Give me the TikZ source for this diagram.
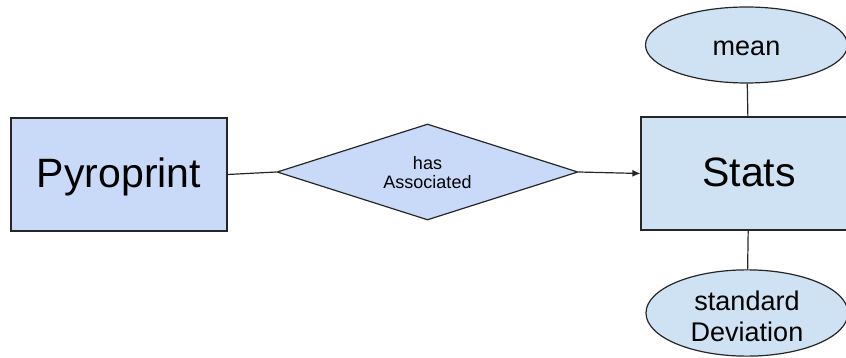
\documentclass[tikz,border=0pt]{standalone}
\usepackage{fontspec}
\setmainfont{Liberation Sans}
\usetikzlibrary{shapes.geometric,arrows.meta}
\definecolor{entfill}{HTML}{C9DAF8}
\definecolor{statfill}{HTML}{CFE2F3}
\definecolor{edge}{HTML}{262626}
% shift text down by #1 keeping the box extent
\newcommand{\lowone}[2]{\raisebox{-#1}[\height][\depth]{#2}}
\newcommand{\lowtwo}[2]{\raisebox{-#1}[\height][\depth]{\begin{tabular}{@{}c@{}}#2\end{tabular}}}
\tikzset{
  entity/.style={draw=edge, line width=1.2pt, rectangle, inner sep=0pt,
    minimum width=216pt, minimum height=113pt, font=\fontsize{41}{46}\selectfont},
  relation/.style={draw=edge, line width=1.2pt, diamond, shape aspect=3, inner sep=0pt,
    fill=entfill, minimum width=301pt, minimum height=96pt,
    font=\fontsize{18}{19}\selectfont},
  attr/.style={draw=edge, line width=1.2pt, ellipse, inner sep=0pt, fill=statfill,
    minimum width=202pt, font=\fontsize{27}{30.5}\selectfont},
  link/.style={draw=edge, line width=1.2pt},
  arrowlink/.style={link, -{Latex[length=8pt,width=7pt]}}
}
\begin{document}
\begin{tikzpicture}[x=1pt,y=-1pt]
\useasboundingbox (0,0) rectangle (846,358);
\clip (0,0) rectangle (846,358);
\node[entity, fill=entfill] (pyro) at (119,174.5) {\lowone{2pt}{Pyroprint}};
\node[relation] (has) at (427.5,172) {\lowtwo{3pt}{has\\Associated}};
\node[entity, fill=statfill] (stats) at (749,173.5) {\lowone{-1pt}{Stats}};
\node[attr, minimum height=76pt] (mean) at (746.5,45) {\lowone{3pt}{mean}};
\node[attr, minimum height=70pt] (sd) at (747,313) {\lowtwo{7pt}{standard\\Deviation}};
\draw[link] (pyro.east) -- (has.west);
\draw[arrowlink] (has.east) -- (stats.west);
\draw[link] (mean) -- (stats);
\draw[link] (stats) -- (sd);
\end{tikzpicture}
\end{document}
